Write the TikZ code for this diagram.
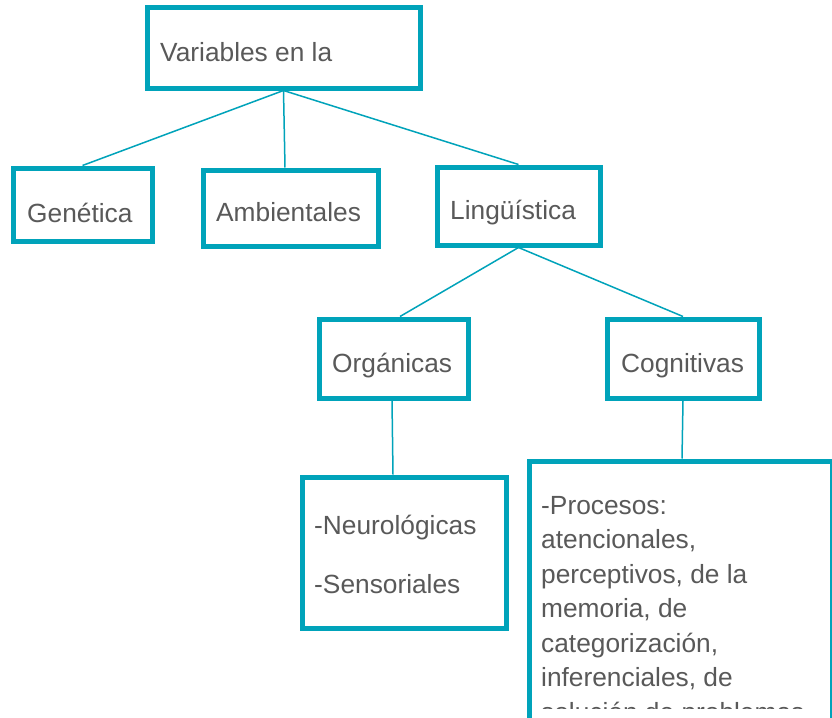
\documentclass[tikz,border=0pt]{standalone}
\usepackage{fontspec}
\setmainfont{Liberation Sans}
\usetikzlibrary{calc}
\definecolor{tealc}{RGB}{0,163,186}
\definecolor{txtc}{RGB}{89,89,89}
\begin{document}
\begin{tikzpicture}[x=1pt,y=-1pt,
  box/.style={draw=tealc, fill=white, line width=5pt, inner sep=0pt},
  conn/.style={draw=tealc, line width=1.5pt},
  lbl/.style={anchor=base west, inner sep=0pt, text=txtc, font=\fontsize{26.3}{34.5}\selectfont}]
\useasboundingbox (0,0) rectangle (832,717);
\clip (0,0) rectangle (832,717);
\fill[white] (0,0) rectangle (832,717);
% boxes (coordinates only, drawn after connectors)
\path
  (283.5,48) node[box, draw=none, fill=none, minimum width=273pt, minimum height=80pt] (var) {}
  (82.5,204.5) node[box, draw=none, fill=none, minimum width=139pt, minimum height=73pt] (gen) {}
  (290.5,208) node[box, draw=none, fill=none, minimum width=175pt, minimum height=76pt] (amb) {}
  (518.5,206) node[box, draw=none, fill=none, minimum width=163pt, minimum height=78pt] (ling) {}
  (393.5,358.5) node[box, draw=none, fill=none, minimum width=149pt, minimum height=79pt] (org) {}
  (683,358.5) node[box, draw=none, fill=none, minimum width=152pt, minimum height=79pt] (cog) {}
  (404,552.5) node[box, draw=none, fill=none, minimum width=204pt, minimum height=151pt] (neu) {}
  (680.5,621) node[box, draw=none, fill=none, minimum width=303pt, minimum height=320pt] (proc) {};
% connectors
\draw[conn] (var.south) -- (gen.north);
\draw[conn] (var.south) -- ([xshift=-5.5pt]amb.north);
\draw[conn] (var.south) -- (ling.north);
\draw[conn] (ling.south) -- ([xshift=6.5pt]org.north);
\draw[conn] (ling.south) -- (cog.north);
\draw[conn] ([xshift=-1.5pt]org.south) -- ([xshift=-11pt]neu.north);
\draw[conn] (cog.south) -- ([xshift=1.5pt]proc.north);
% box frames
\foreach \n in {var,gen,amb,ling,org,cog,neu,proc}{
  \draw[tealc, fill=white, line width=5pt]
    ([shift={(2.5pt,-2.5pt)}]\n.north west) rectangle ([shift={(-2.5pt,2.5pt)}]\n.south east);
}
% texts
\node[lbl] (tvar) at (160,62) {Variables en la};
\node[lbl] (tgen) at (27,222) {Genética};
\node[lbl] (tamb) at (216,221) {Ambientales};
\node[lbl] (tling) at (450,219) {Lingüística};
\node[lbl] (torg) at (332,372) {Orgánicas};
\node[lbl] (tcog) at (621,372) {Cognitivas};
\node[lbl] (tneu1) at (314,534) {-Neurológicas};
\node[lbl] (tneu2) at (314,593) {-Sensoriales};
\begin{scope}
\clip (531,466) rectangle (829,708);
\node[lbl] (tp1) at (541,514) {-Procesos:};
\node[lbl] (tp2) at (541,548.5) {atencionales,};
\node[lbl] (tp3) at (541,583) {perceptivos, de la};
\node[lbl] (tp4) at (541,617.5) {memoria, de};
\node[lbl] (tp5) at (541,652) {categorización,};
\node[lbl] (tp6) at (541,686.5) {inferenciales, de};
\node[lbl] (tp7) at (541,721) {solución de problemas};
\end{scope}
\end{tikzpicture}
\end{document}
